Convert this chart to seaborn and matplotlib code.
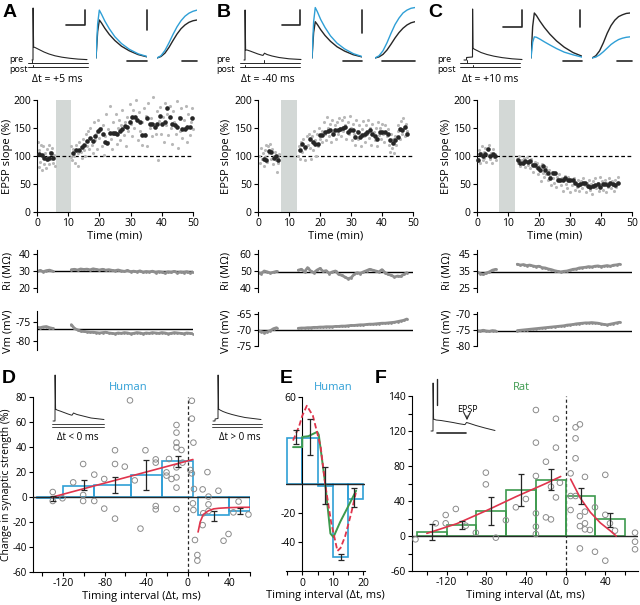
import numpy as np
import matplotlib.pyplot as plt
import seaborn as sns

# ---------------- data: EPSP time courses (panels A-C) ----------------
a_black_t = [0.7, 1.6, 2.3, 3.2, 3.9, 4.5, 5.2, 11.6, 12.5, 13.4, 14.3, 15.1, 16.1, 17.0, 17.8, 18.5, 19.4,
             20.1, 21.0, 21.7, 22.5, 23.3, 24.2, 24.9, 25.7, 26.5, 27.4, 28.1, 29.0, 29.7, 30.6, 31.3, 32.2,
             32.9, 33.8, 34.5, 35.4, 36.1, 36.9, 37.7, 38.6, 39.3, 40.2, 40.9, 41.8, 42.5, 43.4, 44.1, 44.9,
             45.7, 46.6, 47.3, 48.2, 48.9, 49.8]
a_black_v = [104, 102, 96, 95, 97, 106, 96, 106, 111, 111, 116, 120, 126, 132, 127, 135, 144,
             148, 139, 125, 124, 141, 141, 141, 139, 145, 149, 154, 151, 161, 169, 169, 164,
             161, 138, 138, 167, 158, 158, 152, 158, 172, 157, 161, 185, 170, 158, 155, 152,
             167, 149, 148, 151, 151, 167]
a_gray = [(0.3, 125), (0.5, 80), (0.8, 110), (1.0, 90), (1.3, 120), (1.5, 75), (1.8, 100), (2.0, 118),
          (2.3, 85), (2.6, 105), (2.9, 78), (3.1, 112), (3.4, 92), (3.7, 120), (4.0, 85), (4.3, 108),
          (4.6, 95), (4.9, 115), (5.2, 88), (5.5, 102), (5.8, 82),
          (10.8, 98), (11.0, 118), (11.3, 92), (11.6, 112), (12.0, 100), (12.3, 88), (12.6, 120),
          (13.0, 105), (13.3, 83), (13.6, 125), (14.0, 108), (14.3, 97), (14.7, 130), (15.0, 110),
          (15.4, 100), (15.7, 140), (16.0, 118), (16.4, 145), (16.8, 112), (17.1, 150), (17.5, 120),
          (17.8, 105), (18.2, 160), (18.5, 128), (18.9, 140), (19.2, 112), (19.6, 165), (20.0, 132),
          (20.4, 150), (20.7, 118), (21.1, 155), (21.5, 102), (21.8, 135), (22.2, 175), (22.6, 125),
          (22.9, 148), (23.3, 190), (23.7, 130), (24.0, 112), (24.4, 160), (24.8, 140), (25.2, 175),
          (25.5, 122), (25.9, 150), (26.3, 165), (26.7, 128), (27.0, 155), (27.4, 182), (27.8, 138),
          (28.2, 160), (28.5, 118), (28.9, 170), (29.3, 145), (29.7, 192), (30.0, 158), (30.4, 135),
          (30.8, 182), (31.2, 150), (31.6, 200), (31.9, 165), (32.3, 128), (32.7, 178), (33.1, 145),
          (33.5, 120), (33.8, 160), (34.2, 185), (34.6, 140), (35.0, 172), (35.3, 118), (35.7, 195),
          (36.1, 150), (36.5, 168), (36.8, 135), (37.2, 205), (37.6, 158), (38.0, 140), (38.4, 180),
          (38.7, 92), (39.1, 162), (39.5, 188), (39.9, 140), (40.3, 170), (40.6, 125), (41.0, 195),
          (41.4, 155), (41.8, 175), (42.1, 138), (42.5, 190), (42.9, 150), (43.3, 122), (43.6, 180),
          (44.0, 160), (44.4, 140), (44.8, 198), (45.1, 115), (45.5, 170), (45.9, 145), (46.3, 185),
          (46.6, 132), (47.0, 165), (47.4, 150), (47.8, 190), (48.2, 125), (48.5, 175), (48.9, 138),
          (49.3, 160), (49.6, 185), (49.9, 148)]

b_black_t = [1.8, 2.7, 3.4, 4.3, 5.0, 5.9, 6.6, 13.4, 14.3, 15.2, 16.8, 17.7, 18.4, 19.3, 20.0, 20.8,
             21.6, 22.5, 23.2, 24.1, 24.8, 25.7, 26.4, 27.3, 28.0, 28.9, 29.7, 30.5, 31.3, 32.1, 32.9,
             33.7, 34.5, 35.3, 36.1, 36.9, 37.7, 38.5, 39.3, 40.1, 40.9, 41.8, 42.5, 43.4, 44.1, 45.0,
             45.7, 46.6, 47.3, 48.2]
b_black_v = [94, 92, 109, 107, 96, 100, 92, 110, 121, 116, 130, 125, 121, 122, 137, 138,
             142, 145, 146, 139, 146, 147, 149, 150, 151, 142, 147, 147, 134, 143, 134,
             138, 140, 142, 146, 140, 135, 131, 143, 143, 143, 140, 128, 124, 128, 134,
             149, 147, 151, 140]
b_gray = [(0.3, 100), (0.6, 88), (0.9, 115), (1.2, 95), (1.5, 105), (1.8, 82), (2.1, 110), (2.4, 98),
          (2.7, 120), (3.0, 90), (3.3, 118), (3.6, 105), (3.9, 122), (4.2, 95), (4.5, 112), (4.8, 85),
          (5.1, 100), (5.4, 108), (5.7, 92), (6.0, 72), (6.3, 98), (6.6, 88), (6.9, 104),
          (13.0, 100), (13.3, 118), (13.6, 95), (14.0, 125), (14.3, 108), (14.6, 130), (15.0, 112),
          (15.3, 92), (15.7, 135), (16.0, 120), (16.4, 140), (16.7, 115), (17.0, 95), (17.4, 135),
          (17.7, 110), (18.0, 145), (18.4, 128), (18.7, 100), (19.1, 140), (19.4, 118), (19.8, 150),
          (20.1, 130), (20.5, 145), (20.8, 125), (21.2, 160), (21.5, 140), (21.9, 128), (22.2, 170),
          (22.6, 150), (22.9, 135), (23.3, 158), (23.6, 125), (24.0, 165), (24.3, 142), (24.7, 155),
          (25.0, 130), (25.4, 160), (25.7, 140), (26.1, 168), (26.4, 150), (26.8, 135), (27.1, 165),
          (27.5, 145), (27.8, 170), (28.2, 155), (28.5, 130), (28.9, 160), (29.2, 140), (29.6, 172),
          (29.9, 150), (30.3, 128), (30.6, 158), (31.0, 140), (31.3, 120), (31.7, 165), (32.0, 145),
          (32.4, 130), (32.7, 155), (33.1, 118), (33.4, 148), (33.8, 162), (34.1, 135), (34.5, 125),
          (34.8, 155), (35.2, 140), (35.5, 165), (35.9, 132), (36.2, 150), (36.6, 120), (36.9, 158),
          (37.3, 142), (37.6, 128), (38.0, 150), (38.3, 118), (38.7, 160), (39.0, 138), (39.4, 150),
          (39.7, 130), (40.1, 158), (40.4, 140), (40.8, 125), (41.1, 155), (41.5, 135), (41.8, 148),
          (42.2, 120), (42.5, 108), (42.9, 140), (43.2, 115), (43.6, 130), (43.9, 105), (44.3, 135),
          (44.6, 120), (45.0, 145), (45.3, 155), (45.7, 130), (46.0, 162), (46.4, 140), (46.7, 168),
          (47.1, 150), (47.4, 135), (47.8, 158), (48.1, 145)]

c_black_t = [0.3, 1.1, 1.9, 2.7, 3.5, 4.3, 5.2, 5.9, 13.2, 14.0, 14.8, 15.6, 16.5, 17.2, 18.1, 18.8,
             19.7, 20.4, 21.3, 22.0, 22.9, 23.7, 24.5, 25.3, 26.1, 26.9, 27.7, 28.5, 29.4, 30.1, 31.0,
             31.7, 32.6, 33.3, 34.2, 34.9, 35.8, 36.6, 37.4, 38.2, 39.0, 39.8, 40.6, 41.4, 42.3, 43.0,
             43.9, 44.6, 45.5]
c_black_v = [92, 103, 100, 103, 112, 100, 104, 100, 92, 88, 88, 91, 90, 91, 84, 84,
             79, 75, 82, 75, 70, 60, 69, 70, 57, 58, 58, 60, 57, 58, 57,
             51, 48, 50, 51, 52, 46, 44, 46, 48, 50, 45, 50, 50, 48, 51,
             50, 48, 52]
c_gray = [(0.3, 95), (0.6, 110), (0.9, 88), (1.2, 105), (1.5, 118), (1.8, 92), (2.1, 108), (2.4, 97),
          (2.7, 115), (3.0, 90), (3.3, 112), (3.6, 102), (3.9, 120), (4.2, 95), (4.5, 106), (4.8, 88),
          (5.1, 112), (5.4, 98), (5.7, 104), (6.0, 92),
          (13.0, 95), (13.3, 88), (13.7, 100), (14.0, 82), (14.4, 92), (14.7, 85), (15.1, 96), (15.4, 80),
          (15.8, 90), (16.1, 98), (16.5, 84), (16.8, 92), (17.2, 78), (17.5, 95), (17.9, 86), (18.2, 72),
          (18.6, 90), (18.9, 80), (19.3, 88), (19.6, 68), (20.0, 82), (20.3, 75), (20.7, 55), (21.0, 85),
          (21.4, 70), (21.7, 62), (22.1, 80), (22.4, 68), (22.8, 58), (23.1, 75), (23.5, 64), (23.8, 48),
          (24.2, 72), (24.5, 60), (24.9, 52), (25.2, 70), (25.6, 45), (25.9, 62), (26.3, 55), (26.6, 68),
          (27.0, 48), (27.3, 60), (27.7, 38), (28.0, 58), (28.4, 65), (28.7, 50), (29.1, 42), (29.4, 62),
          (29.8, 55), (30.1, 35), (30.5, 58), (30.8, 48), (31.2, 60), (31.5, 40), (31.9, 52), (32.2, 45),
          (32.6, 58), (32.9, 38), (33.3, 50), (33.6, 55), (34.0, 42), (34.3, 60), (34.7, 48), (35.0, 35),
          (35.4, 52), (35.7, 44), (36.1, 58), (36.4, 40), (36.8, 50), (37.1, 32), (37.5, 55), (37.8, 45),
          (38.2, 60), (38.5, 42), (38.9, 52), (39.2, 38), (39.6, 62), (39.9, 48), (40.3, 55), (40.6, 40),
          (41.0, 50), (41.3, 58), (41.7, 36), (42.0, 52), (42.4, 45), (42.7, 60), (43.1, 42), (43.4, 55),
          (43.8, 48), (44.1, 38), (44.5, 58), (44.8, 44), (45.2, 52), (45.5, 62)]

stim_a, stim_b, stim_c = (6.1, 10.9), (7.4, 12.5), (7.2, 12.2)

# input resistance / membrane potential (one value per minute, baseline + after pairing)
ri_a_base = [29.8, 30.3, 29.6, 30.2, 30.5, 29.9]
ri_a_post = [30.8, 31, 30.6, 31.2, 30.9, 31.1, 30.7, 31.3, 30.9, 30.6, 31, 30.5, 30.8, 30.4, 30.2, 30.6,
             30.1, 29.8, 30.3, 29.6, 29.9, 29.5, 30.1, 29.2, 29.7, 29.4, 29.9, 29.1, 29.6, 29.3, 28.8,
             29.5, 29.2, 29.8, 28.9, 29.4, 29.1, 29.6, 28.9, 29.3]
vm_a_base = [-76.5, -76.6, -76.4, -76.3, -76.6, -76.8]
vm_a_post = [-75.8, -76.8, -77.2, -77.5, -77.6, -77.7, -77.8, -77.8, -77.9, -78, -77.9, -77.8, -78,
             -78.1, -78.2, -78, -78.1, -77.9, -78, -78.2, -78.1, -77.9, -78, -78.2, -78, -78.1, -77.9,
             -78, -78.1, -77.9, -78, -78.2, -78.1, -77.9, -78, -78.1, -78.2, -78, -78.1, -78.2]
ri_b_base = [49, 48.5, 50, 49.5, 48.8, 49.3, 49.8]
ri_b_post = [50.5, 51, 49.5, 52, 50, 49, 50.5, 51.5, 49.8, 50.2, 48.5, 49.5, 50, 48, 47.5, 46.5, 45.5,
             46, 48, 49, 48.5, 49.5, 50.2, 51, 50.5, 50, 49.5, 50.8, 49, 48, 47.5, 46.5, 47, 46.8, 48, 49]
vm_b_base = [-70.3, -70.5, -70.8, -70.6, -70.2, -69.6, -69.3]
vm_b_post = [-69.5, -69.4, -69.4, -69.3, -69.3, -69.2, -69.2, -69.1, -69.1, -69.0, -69.0, -69.0, -68.9,
             -68.9, -68.8, -68.8, -68.7, -68.6, -68.6, -68.5, -68.4, -68.4, -68.3, -68.2, -68.2, -68.1,
             -68.0, -67.9, -67.9, -67.8, -67.7, -67.6, -67.4, -67.2, -67.0, -66.6]
ri_c_base = [34.5, 33.5, 33.0, 33.8, 34.5, 35.5, 36.0]
ri_c_post = [39, 38.5, 38.8, 38.2, 38.5, 38, 37.6, 37.8, 37, 36.8, 36.2, 35.8, 35.2, 34.8, 34.5, 34.8,
             35, 35.5, 36, 36.2, 36.8, 37, 37.2, 37.6, 37.4, 37.8, 38, 37.6, 37.9, 38.2, 37.8, 38.4,
             38.6, 39]
vm_c_base = [-75.2, -75.3, -75.1, -75.3, -75.4, -75.2, -75.3]
vm_c_post = [-75.2, -75.1, -75, -74.9, -74.8, -74.7, -74.6, -74.5, -74.4, -74.3, -74.2, -74.1, -74,
             -73.9, -73.8, -73.7, -73.5, -73.4, -73.3, -73.1, -73, -72.9, -72.8, -72.8, -72.7, -72.8,
             -72.9, -73.1, -73.3, -73.4, -73.2, -73, -72.8, -72.6]

# example traces (arbitrary units)
pair_t_a = [0, 1.0, 1.1, 1.6, 3, 5, 8, 12, 17, 23, 30, 38, 46, 55]
pair_v_a = [0, 0, 52, 13, 12.5, 11.5, 10, 8, 6, 4.2, 2.8, 1.7, 0.9, 0.4]
pair_t_b = [0, 1.0, 1.1, 1.6, 3, 6, 10, 14, 18, 19, 20.5, 23, 28, 35, 45, 57]
pair_v_b = [0, 0, 50, 10, 10, 9, 7.5, 6, 4.8, 4.6, 6.8, 5.5, 4, 2.5, 1.2, 0.5]
pair_t_c = [0, 2.5, 2.6, 8.5, 8.6, 9.0, 10, 13, 17, 23, 30, 38, 48, 58]
pair_v_c = [0, 0, 2.5, 3, 51, 12, 11, 9.5, 7.5, 5.5, 3.8, 2.4, 1.2, 0.5]
pre_tick = [0, 20, 2.5]
post_tick = [1, 1, 8.6]

epsp_t = [0, 1.5, 3, 5, 8, 12, 17, 23, 30, 38, 46]
epsp_a_before = [0, 0.7, 1.0, 0.92, 0.78, 0.62, 0.46, 0.31, 0.19, 0.09, 0.03]
epsp_a_after = [0, 0.9, 1.26, 1.15, 0.97, 0.77, 0.56, 0.38, 0.23, 0.11, 0.04]
epsp_b_before = [0, 0.7, 1.0, 0.92, 0.78, 0.62, 0.46, 0.31, 0.19, 0.09, 0.03]
epsp_b_after = [0, 1.0, 1.39, 1.27, 1.06, 0.84, 0.61, 0.41, 0.25, 0.12, 0.04]
epsp_c_before = [0, 0.7, 1.0, 0.94, 0.82, 0.68, 0.53, 0.38, 0.24, 0.12, 0.04]
epsp_c_after = [0, 0.35, 0.47, 0.46, 0.42, 0.36, 0.29, 0.21, 0.13, 0.07, 0.02]

rise_t = [0, 2, 4, 6, 8, 10, 12, 14, 16, 18, 20]
rise_a_before = [0, 0.04, 0.13, 0.28, 0.46, 0.63, 0.77, 0.87, 0.94, 0.98, 1.0]
rise_a_after = [0, 0.06, 0.2, 0.4, 0.62, 0.82, 0.98, 1.1, 1.18, 1.23, 1.26]
rise_b_before = [0, 0.03, 0.1, 0.22, 0.38, 0.55, 0.7, 0.82, 0.91, 0.97, 1.0]
rise_b_after = [0, 0.06, 0.2, 0.42, 0.68, 0.92, 1.1, 1.24, 1.32, 1.37, 1.39]
rise_c_before = [0, 0.05, 0.16, 0.34, 0.55, 0.72, 0.84, 0.92, 0.96, 0.99, 1.0]
rise_c_after = [0, 0.02, 0.07, 0.14, 0.22, 0.3, 0.36, 0.41, 0.44, 0.46, 0.47]

# ---------------- data: STDP windows (panels D-F) ----------------
d_bin_left = [-145, -120, -90, -55, -25, 10, 40]
d_bin_width = [25, 30, 35, 30, 30, 30, 20]
d_bin_height = [-1, 8.5, 10, 18, 28.5, -14.5, -11]
d_err_x = [-130, -100, -70, -40, -9, 25, 50]
d_err_mean = [-1, 9.5, 9.5, 18, 28.5, -15, -11]
d_err_sem = [2, 4, 6.5, 12, 4.5, 4, 2.5]
d_cells_x = [-130, -130, -120.6, -110.3, -100.7, -100.7, -100.7, -90, -90, -80.4, -80.4, -70, -70, -70,
             -60.6, -55.6, -51, -45.5, -40.7, -30.8, -30.8, -30.8, -30.8, -20.4, -20.4, -18, -15.6,
             -10.8, -10.8, -10.8, -10.8, -10.8, -10.8, -10.8, -10.8, -6, -5, 4, 4, 2.5, 4, 5, 5.5, 6,
             5.5, 7, 9.3, 9.3, 14.4, 14.4, 15, 19, 20, 20, 20, 29.6, 39.3, 34.5, 49, 44, 58.5]
d_cells_y = [4, -3.2, -1, 11.7, 26.4, 1.6, -3.2, 17.9, -3.2, 14.4, -9.3, 37.4, 26.4, -17.3,
             24.3, 77.3, 13.3, -25.3, 37.4, 30.1, 27.5, -7.2, -9.9, 19.7, 17.1, 30.4, 14.4,
             57.6, 51.5, 43.5, 39.7, 23.7, 15.7, 7.5, -9.6, 37.6, 27.5, 77, 62.7, 21.6, 18.9, -5.1, -10.4, 6.4,
             43.5, -34.4, -46.4, -50.9, 6.1, -22.5, -13, 19.9, 0.3, -5.9, -11.2, 5, -29.6, -35, -3.6, -12.3, -14]
d_fit_ltp_x = [-130, 5]
d_fit_ltp_y = [0, 30]
d_fit_ltd_x = [10, 12, 15, 20, 25, 30, 40, 50, 60]
d_fit_ltd_y = [-28, -20, -14, -11, -9.5, -9, -8.5, -8.3, -8.2]

e_bin_left = [-5, 0, 5, 10, 15]
e_bin_height = [31.5, 31.5, -1.5, -50, -10]
e_err_x = [-2, 2.5, 7.5, 12.5, 17]
e_err_mean = [32.5, 32.5, -1, -50, -9]
e_err_sem = [5, 12.5, 12.5, 2, 6.5]
e_green_x = [-3, 0, 0, 2, 4.9, 5.4, 7.5, 9.2, 10.2, 12.4, 14.6, 17.6]
e_green_y = [25.5, 25.5, 32.5, 33, 36, 34, 0.5, -34, -36.5, -26, -17, -4.5]
e_red_x = [-3, -1, 0, 1.5, 3.5, 6, 7.5, 9.5, 11.5, 12.5, 14, 16, 17.5]
e_red_y = [30, 40, 47, 54, 47, 26, 0, -27, -46, -44, -36, -20, -6]

f_bin_left = [-150, -120, -90, -60, -30, 0, 30]
f_bin_height = [5, 13, 29, 52.5, 64, 46, 19]
f_err_x = [-135, -105, -75, -45, -15, 15, 45]
f_err_mean = [5, 13, 29, 52.5, 65, 46, 18.5]
f_err_sem = [9, 4.5, 16, 18, 12, 9, 8]
f_cells_x = [-151.5, -131, -121, -121, -110.8, -100.7, -90.6, -80.5, -80.5, -70.4, -60.3, -50.2, -40.1,
             -30, -30, -30, -30, -30, -30, -19.9, -19.9, -14.8, -14.8, -9.8, -9.8, -9.8, -5.8, 5, 5, 5,
             10, 10, 10, 10, 14.4, 14.4, 14.4, 14.4, 19.5, 19.5, 19.5, 19.5, 24.5, 29.6, 29.6, 40, 40, 40,
             44.7, 49.8, 70, 70, 70]
f_cells_y = [-3.8, 14.5, 24, 14.5, 30.9, 11.8, 3.8, 72.4, 59, -1.9, 18, 32.8, 42.3,
             144, 106.7, 68.6, 25.9, 10.7, 2.3, 84.9, 21.3, 19, 56.4, 101, 134, 44.1, 60.9, 71.6, 29.7, 45.7,
             124.2, 111.6, 88.8, 45.7, 127.6, 22.7, 11.3, -14.2, 67.6, 27.8, 14.5, 7.6, 6.9, 32.8, -18, 69.9, 24.2, -28.2,
             14.5, 6.1, 3.8, -6.5, -15.2]
f_fit_ltp_x = [-140, -110, -80, -50, -20, -5]
f_fit_ltp_y = [3, 14, 29, 45, 60, 68]
f_fit_ltd_x = [5, 15, 25, 35, 45, 51]
f_fit_ltd_y = [65, 43, 27, 15, 6, 0]
f_ytick_pos = [-40, -20, 0, 20, 40, 60, 80, 100, 120, 140, 160]
f_ytick_lab = ['-60', '', '0', '', '40', '', '80', '', '120', '', '140']

d_neg_t = [0, 2, 2.1, 2.6, 4, 7, 11, 15, 18, 19, 20.5, 24, 30, 38, 51]
d_neg_v = [0, 0, 46, 12, 11, 10, 8.5, 7, 6, 5.8, 8, 6.5, 5, 3, 1.5]
d_pos_t = [0, 2, 2.1, 5, 5.1, 5.6, 7, 10, 14, 19, 25, 32, 40, 48]
d_pos_v = [0, 0, 2, 2.5, 46, 12, 11, 9.5, 8, 6.5, 5, 3.5, 2.5, 1.5]
f_trace_t = [0, 2, 2.1, 2.6, 5, 10, 16, 22, 28, 33, 34, 35.5, 38, 45, 54, 64]
f_trace_v = [0, 0, 48, 12, 11, 10.5, 9.5, 8.5, 7.3, 6.5, 6.4, 8.5, 7.8, 5.5, 3, 0.5]

# ---------------- style ----------------
BLUE = '#2f9fd6'
GREEN = '#3d9a4e'
RED = '#e0344c'
DARK = '#262626'
GRAY_DOT = '#b8b8b8'
MON_GRAY = '#8e8e8e'
STIM = '#d3d8d6'
CIRCLE = '#8a8a8a'

sns.set_theme(style='ticks')
plt.rcParams['font.family'] = ['Open Sans', 'DejaVu Sans']
plt.rcParams.update({
    'axes.linewidth': 0.8, 'axes.edgecolor': 'black', 'axes.labelcolor': 'black',
    'xtick.color': 'black', 'ytick.color': 'black', 'text.color': 'black',
    'xtick.major.width': 0.8, 'ytick.major.width': 0.8,
    'xtick.major.size': 3, 'ytick.major.size': 3,
    'xtick.major.pad': 1.5, 'ytick.major.pad': 1.5,
    'xtick.labelsize': 7.5, 'ytick.labelsize': 7.5, 'axes.labelsize': 8,
    'axes.unicode_minus': False,
})

W, H = 640, 605
fig = plt.figure(figsize=(6.4, 6.05), dpi=100)


def px_axes(x0, y0, x1, y1):
    return fig.add_axes([x0 / W, 1 - y1 / H, (x1 - x0) / W, (y1 - y0) / H])


def ftext(x, y, s, **kw):
    kw.setdefault('ha', 'center')
    kw.setdefault('va', 'center')
    fig.text(x / W, 1 - y / H, s, **kw)


def timecourse(x0, x1, gray, black_t, black_v, stim):
    ax = px_axes(x0, 100, x1, 212)
    gray = np.array(gray)
    ax.axvspan(*stim, color=STIM, lw=0, zorder=0)
    ax.axhline(100, color='black', lw=0.9, ls=(0, (3, 2)), zorder=1)
    sns.scatterplot(x=gray[:, 0], y=gray[:, 1], color=GRAY_DOT, s=5, linewidth=0,
                    ax=ax, clip_on=False, zorder=2)
    sns.scatterplot(x=black_t, y=black_v, color=DARK, s=11, linewidth=0,
                    ax=ax, clip_on=False, zorder=3)
    ax.set_xlim(0, 50)
    ax.set_ylim(0, 200)
    ax.set_xticks(range(0, 51, 10))
    ax.set_yticks(range(0, 201, 50))
    ax.set_xlabel('Time (min)', labelpad=1)
    ax.set_ylabel('')
    sns.despine(ax=ax)
    return ax


def monitor(x0, x1, y0, y1, base, post, post_start, line, ylim, ticks, bounds):
    ax = px_axes(x0, y0, x1, y1)
    ax.axhline(line, color='black', lw=1.0, zorder=1)
    t_base = np.arange(len(base))
    t_post = np.arange(post_start, post_start + len(post))
    for t, v in ((t_base, base), (t_post, post)):
        ax.plot(t, v, color=MON_GRAY, lw=2.0, marker='o', ms=2, mew=0, zorder=2)
    ax.set_xlim(0, 50)
    ax.set_ylim(*ylim)
    ax.set_yticks(ticks)
    sns.despine(ax=ax, bottom=True)
    ax.spines['left'].set_bounds(*bounds)
    ax.set_xticks([])
    return ax


def trace_axes(x0, x1, y0, y1, xlim, ylim):
    ax = px_axes(x0, y0, x1, y1)
    ax.set_xlim(*xlim)
    ax.set_ylim(*ylim)
    ax.axis('off')
    return ax


# ---------------- panels A-C ----------------
panels = [
    dict(x0=37, x1=193, gray=a_gray, bt=a_black_t, bv=a_black_v, stim=stim_a, lab=8,
         ri=(ri_a_base, ri_a_post, 11, 30, (17.65, 42.35), [20, 30, 40], (17.65, 42.35)),
         vm=(vm_a_base, vm_a_post, 11, -77, (-82.5, -72.2), [-80, -75], (-82.5, -72.2)),
         pair=(pair_t_a, pair_v_a), px0=32, dt='\u0394t = +5 ms', dtx=57,
         ep=(epsp_a_before, epsp_a_after), rise=(rise_a_before, rise_a_after), k=38,
         ex=(96, 147), rx=(157, 197),
         bars=[[(66, 25), (85, 25), (85, 10)], [(147, 10), (147, 30)], [(127, 61), (147, 61)], [(182, 61), (197, 61)]],
         letter=('A', 3), prex=9),
    dict(x0=258, x1=413, gray=b_gray, bt=b_black_t, bv=b_black_v, stim=stim_b, lab=226,
         ri=(ri_b_base, ri_b_post, 13, 49.5, (37.65, 62.35), [40, 50, 60], (37.65, 62.35)),
         vm=(vm_b_base, vm_b_post, 13, -70, (-76.25, -64.1), [-75, -70, -65], (-75, -64.3)),
         pair=(pair_t_b, pair_v_b), px0=244, dt='\u0394t = -40 ms', dtx=268,
         ep=(epsp_b_before, epsp_b_after), rise=(rise_b_before, rise_b_after), k=36.3,
         ex=(312, 362), rx=(375, 415),
         bars=[[(282, 25), (300, 25), (300, 10)], [(362, 10), (362, 33)], [(343, 61), (362, 61)], [(382, 61), (415, 61)]],
         letter=('B', 217), prex=216),
    dict(x0=477, x1=632, gray=c_gray, bt=c_black_t, bv=c_black_v, stim=stim_c, lab=447,
         ri=(ri_c_base, ri_c_post, 13, 34.5, (22.65, 47.35), [25, 35, 45], (22.65, 47.35)),
         vm=(vm_c_base, vm_c_post, 13, -75.2, (-81.25, -69.1), [-80, -75, -70], (-80, -69.3)),
         pair=(pair_t_c, pair_v_c), px0=464, dt='\u0394t = +10 ms', dtx=490,
         ep=(epsp_c_before, epsp_c_after), rise=(rise_c_before, rise_c_after), k=45,
         ex=(531, 582), rx=(592, 630),
         bars=[[(503, 27), (522, 27), (522, 10)], [(580, 10), (580, 27)], [(563, 61), (582, 61)], [(617, 61), (632, 61)]],
         letter=('C', 428), prex=437),
]

overlay = px_axes(0, 0, W, H)
overlay.set_xlim(0, W)
overlay.set_ylim(H, 0)
overlay.axis('off')
overlay.set_zorder(20)

for i, p in enumerate(panels):
    timecourse(p['x0'], p['x1'], p['gray'], p['bt'], p['bv'], p['stim'])
    monitor(p['x0'], p['x1'], 250, 292, *p['ri'])
    monitor(p['x0'], p['x1'], 311, 350, *p['vm'])
    ftext(p['lab'], 156, 'EPSP slope (%)', rotation=90, fontsize=8)
    ftext(p['lab'], 271, 'Ri (M\u03a9)', rotation=90, fontsize=8)
    ftext(p['lab'], 331, 'Vm (mV)', rotation=90, fontsize=8)

    # pairing trace with pre/post stimulus lines
    tax = trace_axes(p['px0'] - 6, p['px0'] + 60, 5, 70, (-6, 60), (-10, 55))
    tax.plot(p['pair'][0], p['pair'][1], color=DARK, lw=0.8)
    tax.plot([-4, 56], [-3, -3], color=DARK, lw=0.7)
    tax.plot([-4, 56], [-7, -7], color=DARK, lw=0.7)
    tax.plot([pre_tick[i]] * 2, [-3, 0], color=DARK, lw=0.7)
    tax.plot([post_tick[i]] * 2, [-7, -4.5], color=DARK, lw=0.7)
    ftext(p['prex'], 59.5, 'pre', ha='left', fontsize=6.5)
    ftext(p['prex'], 69.5, 'post', ha='left', fontsize=6.5)
    ftext(p['dtx'], 80, p['dt'], fontsize=7.5)

    # EPSP overlays (before = black, after = blue)
    k = p['k']
    eax = trace_axes(p['ex'][0], p['ex'][1], 5, 62, (0, 46), (-4 / k, 53 / k))
    sns.lineplot(x=epsp_t, y=p['ep'][0], color=DARK, lw=1.0, ax=eax, sort=False, estimator=None)
    sns.lineplot(x=epsp_t, y=p['ep'][1], color=BLUE, lw=1.0, ax=eax, sort=False, estimator=None)
    rax = trace_axes(p['rx'][0], p['rx'][1], 5, 62, (0, 20), (-4 / k, 53 / k))
    sns.lineplot(x=rise_t, y=p['rise'][0], color=DARK, lw=1.0, ax=rax, sort=False, estimator=None)
    sns.lineplot(x=rise_t, y=p['rise'][1], color=BLUE, lw=1.0, ax=rax, sort=False, estimator=None)
    for seg in p['bars']:
        xs, ys = zip(*seg)
        overlay.plot(xs, ys, color=DARK, lw=1.2)
    ftext(p['letter'][1], 4, p['letter'][0], ha='left', va='top', fontsize=14,
          fontweight='bold', family=['Liberation Sans', 'DejaVu Sans'])


def window_bars(ax, left, width, height, color):
    ax.bar(left, height, width=width, align='edge', fill=False, edgecolor=color, lw=1.2, zorder=2)


def window_errors(ax, x, mean, sem):
    ax.errorbar(x, mean, yerr=sem, fmt='none', ecolor=DARK, elinewidth=0.9,
                capsize=2.5, capthick=0.9, zorder=6)


# ---------------- panel D ----------------
ax_d = px_axes(33, 397, 250, 572)
window_bars(ax_d, d_bin_left, d_bin_width, d_bin_height, BLUE)
ax_d.axhline(0, color=DARK, lw=1.0, zorder=3)
ax_d.axvline(0, color=DARK, lw=0.9, ls=(0, (2.5, 2)), zorder=1)
sns.scatterplot(x=d_cells_x, y=d_cells_y, facecolors='none', edgecolor=CIRCLE, s=16,
                linewidth=0.7, ax=ax_d, zorder=4, clip_on=False)
sns.lineplot(x=d_fit_ltp_x, y=d_fit_ltp_y, color=RED, lw=1.2, ax=ax_d, sort=False, estimator=None, zorder=5)
sns.lineplot(x=d_fit_ltd_x, y=d_fit_ltd_y, color=RED, lw=1.2, ax=ax_d, sort=False, estimator=None, zorder=5)
window_errors(ax_d, d_err_x, d_err_mean, d_err_sem)
ax_d.set_xlim(-149, 60)
ax_d.set_ylim(-60, 80)
d_xticks = list(range(-140, 61, 20))
ax_d.set_xticks(d_xticks)
ax_d.set_xticklabels([str(v) if v % 40 == 0 else '' for v in d_xticks])
ax_d.set_yticks(range(-60, 81, 20))
ax_d.tick_params(axis='y', labelsize=7)
ax_d.set_xlabel('Timing interval (\u0394t, ms)', labelpad=1)
sns.despine(ax=ax_d)
ftext(7, 485, 'Change in synaptic strength (%)', rotation=90, fontsize=7.5)
ftext(128, 387, 'Human', color=BLUE, fontsize=8)

neg_ax = trace_axes(50, 106, 370, 432, (-3, 53), (-11, 51))
neg_ax.plot(d_neg_t, d_neg_v, color=DARK, lw=0.7)
neg_ax.plot([-1, 51], [-3, -3], color=DARK, lw=0.6)
neg_ax.plot([-1, 51], [-6, -6], color=DARK, lw=0.6)
ftext(78, 437, '\u0394t < 0 ms', fontsize=7)
pos_ax = trace_axes(210, 266, 370, 432, (-3, 53), (-11, 51))
pos_ax.plot(d_pos_t, d_pos_v, color=DARK, lw=0.7)
pos_ax.plot([-1, 49], [-3, -3], color=DARK, lw=0.6)
pos_ax.plot([-1, 49], [-6, -6], color=DARK, lw=0.6)
ftext(240, 437, '\u0394t > 0 ms', fontsize=7)

# ---------------- panel E ----------------
ax_e = px_axes(286, 397, 365, 572)
window_bars(ax_e, e_bin_left, [5] * len(e_bin_left), e_bin_height, BLUE)
ax_e.axhline(0, color=DARK, lw=1.0, zorder=3)
sns.lineplot(x=e_green_x, y=e_green_y, color=GREEN, lw=1.4, ax=ax_e, sort=False, estimator=None, zorder=5)
sns.lineplot(x=e_red_x, y=e_red_y, color=RED, lw=1.3, ax=ax_e, sort=False, estimator=None, zorder=5,
             linestyle=(0, (3, 1.5)))
window_errors(ax_e, e_err_x, e_err_mean, e_err_sem)
ax_e.set_xlim(-5.3, 20.5)
ax_e.set_ylim(-60.5, 60)
ax_e.set_xticks([-5, 0, 5, 10, 15, 20])
ax_e.set_xticklabels(['', '0', '', '10', '', '20'])
ax_e.set_yticks([60, -20, -40])
ax_e.spines['left'].set_position(('data', 0))
ax_e.spines['left'].set_bounds(-60, 60)
ax_e.spines['bottom'].set_position(('data', -60))
ax_e.set_xlabel('Timing interval (\u0394t, ms)', labelpad=1)
sns.despine(ax=ax_e)
ftext(333, 387, 'Human', color=BLUE, fontsize=8)

# ---------------- panel F ----------------
ax_f = px_axes(412, 396, 638, 571)
window_bars(ax_f, f_bin_left, [30] * len(f_bin_left), f_bin_height, GREEN)
ax_f.axhline(0, color=DARK, lw=1.0, zorder=3)
ax_f.axvline(0, color=DARK, lw=0.9, ls=(0, (2.5, 2)), zorder=1)
sns.scatterplot(x=f_cells_x, y=f_cells_y, facecolors='none', edgecolor=CIRCLE, s=16,
                linewidth=0.7, ax=ax_f, zorder=4, clip_on=False)
sns.lineplot(x=f_fit_ltp_x, y=f_fit_ltp_y, color=RED, lw=1.2, ax=ax_f, sort=False, estimator=None, zorder=5)
sns.lineplot(x=f_fit_ltd_x, y=f_fit_ltd_y, color=RED, lw=1.2, ax=ax_f, sort=False, estimator=None, zorder=5)
window_errors(ax_f, f_err_x, f_err_mean, f_err_sem)
ax_f.set_xlim(-155, 73)
ax_f.set_ylim(-40, 160)
f_xticks = list(range(-140, 61, 20))
ax_f.set_xticks(f_xticks)
ax_f.set_xticklabels([str(v) if v % 40 == 0 else '' for v in f_xticks])
ax_f.set_yticks(f_ytick_pos)
ax_f.set_yticklabels(f_ytick_lab)
ax_f.set_xlabel('Timing interval (\u0394t, ms)', labelpad=1)
sns.despine(ax=ax_f)
ftext(521, 387, 'Rat', color=GREEN, fontsize=8)

f_ax = trace_axes(428, 500, 380, 436, (-3, 69), (-5, 51))
f_ax.plot(f_trace_t, f_trace_v, color=DARK, lw=0.7)
overlay.plot([437, 466], [433, 433], color=DARK, lw=1.2)
overlay.plot([437, 437], [379, 405], color=DARK, lw=1.0)
ftext(467, 409, 'EPSP', fontsize=6.5)
overlay.annotate('', xy=(467, 423), xytext=(467, 413),
                 arrowprops=dict(arrowstyle='->', color=DARK, lw=0.8))

for letter, x in (('D', 2), ('E', 280), ('F', 375)):
    ftext(x, 370, letter, ha='left', va='top', fontsize=14, fontweight='bold',
          family=['Liberation Sans', 'DejaVu Sans'])

fig.savefig('out.png', dpi=100)
